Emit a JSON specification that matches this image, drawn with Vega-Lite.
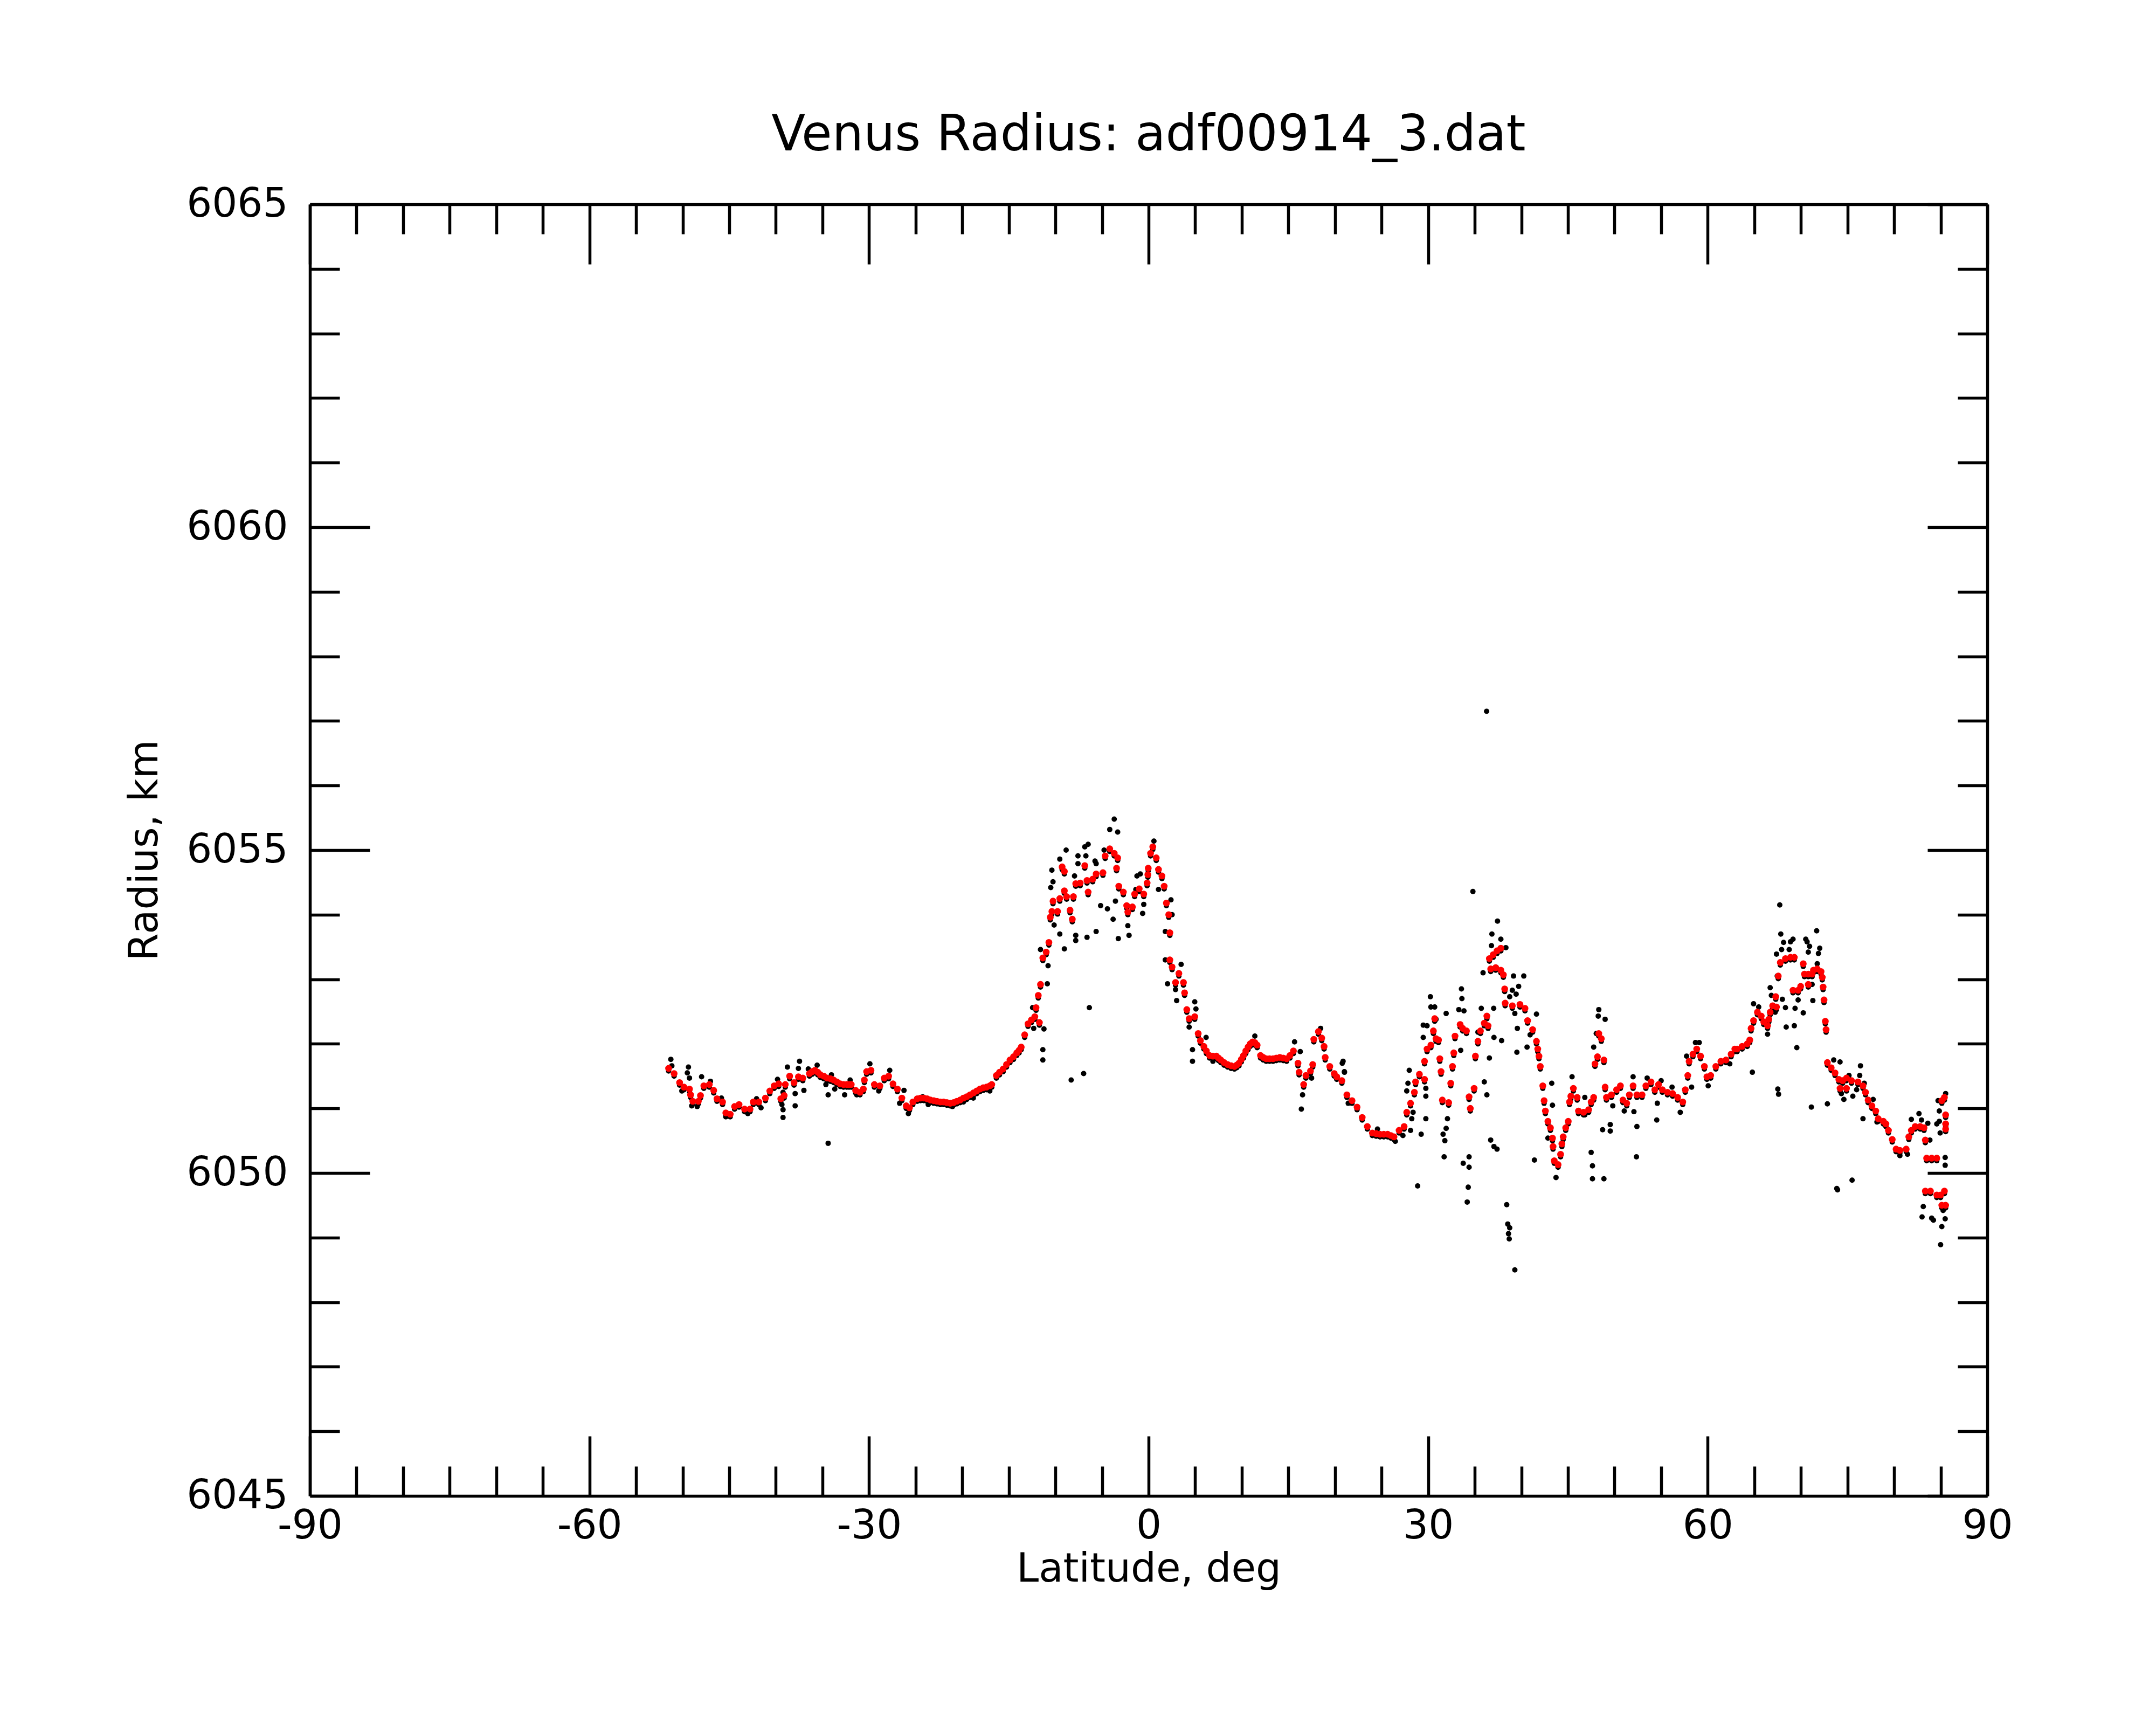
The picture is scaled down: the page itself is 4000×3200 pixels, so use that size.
{
  "$schema": "https://vega.github.io/schema/vega-lite/v6.json",
  "width": 3112,
  "height": 2396,
  "autosize": {"type": "none"},
  "padding": {"left": 575, "top": 379, "right": 313, "bottom": 425},
  "background": "white",
  "config": {"view": {"stroke": null}, "font": "DejaVu Sans"},
  "title": {
    "text": "Venus Radius: adf00914_3.dat",
    "font": "DejaVu Sans",
    "fontSize": 92,
    "fontWeight": "normal",
    "color": "black",
    "anchor": "middle",
    "offset": 44
  },
  "data": {
    "values": [
      {"lat": -51.51, "smooth": 6051.62, "raw": 6051.58},
      {"lat": -50.92, "smooth": 6051.54, "raw": 6051.50},
      {"lat": -50.33, "smooth": 6051.40, "raw": 6051.36},
      {"lat": -49.86, "smooth": 6051.33, "raw": 6051.29},
      {"lat": -49.27, "smooth": 6051.30, "raw": 6051.26},
      {"lat": -49.15, "smooth": 6051.21, "raw": 6051.17},
      {"lat": -48.91, "smooth": 6051.11, "raw": 6051.07},
      {"lat": -48.32, "smooth": 6051.11, "raw": 6051.07},
      {"lat": -48.09, "smooth": 6051.20, "raw": 6051.16},
      {"lat": -47.73, "smooth": 6051.35, "raw": 6051.31},
      {"lat": -47.14, "smooth": 6051.37, "raw": 6051.33},
      {"lat": -46.67, "smooth": 6051.28, "raw": 6051.24},
      {"lat": -46.32, "smooth": 6051.15, "raw": 6051.11},
      {"lat": -45.72, "smooth": 6051.10, "raw": 6051.06},
      {"lat": -45.37, "smooth": 6050.93, "raw": 6050.89},
      {"lat": -44.90, "smooth": 6050.91, "raw": 6050.87},
      {"lat": -44.43, "smooth": 6051.03, "raw": 6050.99},
      {"lat": -43.95, "smooth": 6051.06, "raw": 6051.02},
      {"lat": -43.36, "smooth": 6050.99, "raw": 6050.95},
      {"lat": -42.77, "smooth": 6050.99, "raw": 6050.95},
      {"lat": -42.42, "smooth": 6051.10, "raw": 6051.06},
      {"lat": -41.83, "smooth": 6051.10, "raw": 6051.06},
      {"lat": -41.12, "smooth": 6051.16, "raw": 6051.12},
      {"lat": -40.65, "smooth": 6051.27, "raw": 6051.23},
      {"lat": -40.18, "smooth": 6051.35, "raw": 6051.31},
      {"lat": -39.70, "smooth": 6051.38, "raw": 6051.34},
      {"lat": -39.47, "smooth": 6051.15, "raw": 6051.11},
      {"lat": -39.11, "smooth": 6051.20, "raw": 6051.16},
      {"lat": -38.99, "smooth": 6051.37, "raw": 6051.33},
      {"lat": -38.52, "smooth": 6051.50, "raw": 6051.46},
      {"lat": -38.05, "smooth": 6051.40, "raw": 6051.36},
      {"lat": -37.58, "smooth": 6051.49, "raw": 6051.45},
      {"lat": -37.11, "smooth": 6051.47, "raw": 6051.43},
      {"lat": -36.40, "smooth": 6051.54, "raw": 6051.50},
      {"lat": -36.10, "smooth": 6051.57, "raw": 6051.53},
      {"lat": -35.81, "smooth": 6051.59, "raw": 6051.55},
      {"lat": -35.50, "smooth": 6051.56, "raw": 6051.52},
      {"lat": -35.22, "smooth": 6051.52, "raw": 6051.48},
      {"lat": -34.86, "smooth": 6051.50, "raw": 6051.46},
      {"lat": -34.51, "smooth": 6051.47, "raw": 6051.43},
      {"lat": -34.15, "smooth": 6051.46, "raw": 6051.42},
      {"lat": -33.80, "smooth": 6051.44, "raw": 6051.40},
      {"lat": -33.45, "smooth": 6051.41, "raw": 6051.37},
      {"lat": -33.09, "smooth": 6051.38, "raw": 6051.34},
      {"lat": -32.74, "smooth": 6051.37, "raw": 6051.33},
      {"lat": -32.39, "smooth": 6051.37, "raw": 6051.33},
      {"lat": -32.15, "smooth": 6051.37, "raw": 6051.33},
      {"lat": -31.91, "smooth": 6051.37, "raw": 6051.33},
      {"lat": -31.44, "smooth": 6051.28, "raw": 6051.24},
      {"lat": -30.97, "smooth": 6051.25, "raw": 6051.21},
      {"lat": -30.61, "smooth": 6051.30, "raw": 6051.26},
      {"lat": -30.50, "smooth": 6051.44, "raw": 6051.40},
      {"lat": -30.26, "smooth": 6051.57, "raw": 6051.53},
      {"lat": -29.79, "smooth": 6051.59, "raw": 6051.55},
      {"lat": -29.43, "smooth": 6051.37, "raw": 6051.33},
      {"lat": -28.84, "smooth": 6051.35, "raw": 6051.31},
      {"lat": -28.37, "smooth": 6051.47, "raw": 6051.43},
      {"lat": -27.90, "smooth": 6051.50, "raw": 6051.46},
      {"lat": -27.43, "smooth": 6051.38, "raw": 6051.34},
      {"lat": -26.96, "smooth": 6051.30, "raw": 6051.26},
      {"lat": -26.48, "smooth": 6051.16, "raw": 6051.12},
      {"lat": -26.01, "smooth": 6051.04, "raw": 6051.00},
      {"lat": -25.66, "smooth": 6051.01, "raw": 6050.97},
      {"lat": -25.30, "smooth": 6051.10, "raw": 6051.06},
      {"lat": -24.83, "smooth": 6051.15, "raw": 6051.11},
      {"lat": -24.48, "smooth": 6051.16, "raw": 6051.12},
      {"lat": -24.12, "smooth": 6051.16, "raw": 6051.12},
      {"lat": -23.77, "smooth": 6051.15, "raw": 6051.11},
      {"lat": -23.41, "smooth": 6051.13, "raw": 6051.09},
      {"lat": -23.06, "smooth": 6051.12, "raw": 6051.08},
      {"lat": -22.71, "smooth": 6051.11, "raw": 6051.07},
      {"lat": -22.35, "smooth": 6051.10, "raw": 6051.06},
      {"lat": -22.00, "smooth": 6051.10, "raw": 6051.06},
      {"lat": -21.65, "smooth": 6051.09, "raw": 6051.05},
      {"lat": -21.29, "smooth": 6051.08, "raw": 6051.04},
      {"lat": -20.93, "smooth": 6051.09, "raw": 6051.05},
      {"lat": -20.58, "smooth": 6051.11, "raw": 6051.07},
      {"lat": -20.22, "smooth": 6051.13, "raw": 6051.09},
      {"lat": -19.87, "smooth": 6051.16, "raw": 6051.12},
      {"lat": -19.52, "smooth": 6051.18, "raw": 6051.14},
      {"lat": -19.16, "smooth": 6051.21, "raw": 6051.17},
      {"lat": -18.80, "smooth": 6051.24, "raw": 6051.20},
      {"lat": -18.45, "smooth": 6051.27, "raw": 6051.23},
      {"lat": -18.10, "smooth": 6051.30, "raw": 6051.26},
      {"lat": -17.75, "smooth": 6051.32, "raw": 6051.28},
      {"lat": -17.40, "smooth": 6051.33, "raw": 6051.29},
      {"lat": -17.04, "smooth": 6051.35, "raw": 6051.31},
      {"lat": -16.83, "smooth": 6051.37, "raw": 6051.33},
      {"lat": -16.34, "smooth": 6051.51, "raw": 6051.47},
      {"lat": -16.00, "smooth": 6051.56, "raw": 6051.52},
      {"lat": -15.61, "smooth": 6051.61, "raw": 6051.57},
      {"lat": -15.25, "smooth": 6051.68, "raw": 6051.64},
      {"lat": -14.88, "smooth": 6051.75, "raw": 6051.71},
      {"lat": -14.50, "smooth": 6051.80, "raw": 6051.76},
      {"lat": -14.15, "smooth": 6051.86, "raw": 6051.82},
      {"lat": -13.90, "smooth": 6051.90, "raw": 6051.86},
      {"lat": -13.67, "smooth": 6051.95, "raw": 6051.91},
      {"lat": -13.30, "smooth": 6052.14, "raw": 6052.10},
      {"lat": -12.94, "smooth": 6052.31, "raw": 6052.27},
      {"lat": -12.57, "smooth": 6052.37, "raw": 6052.33},
      {"lat": -12.21, "smooth": 6052.42, "raw": 6052.38},
      {"lat": -11.72, "smooth": 6052.33, "raw": 6052.29},
      {"lat": -12.08, "smooth": 6052.56, "raw": 6052.52},
      {"lat": -11.84, "smooth": 6052.75, "raw": 6052.71},
      {"lat": -11.60, "smooth": 6052.92, "raw": 6052.88},
      {"lat": -11.35, "smooth": 6053.33, "raw": 6053.29},
      {"lat": -10.99, "smooth": 6053.42, "raw": 6053.38},
      {"lat": -10.70, "smooth": 6053.57, "raw": 6053.53},
      {"lat": -10.55, "smooth": 6053.96, "raw": 6053.92},
      {"lat": -10.38, "smooth": 6054.05, "raw": 6054.01},
      {"lat": -9.77, "smooth": 6054.05, "raw": 6054.01},
      {"lat": -10.26, "smooth": 6054.21, "raw": 6054.17},
      {"lat": -9.53, "smooth": 6054.25, "raw": 6054.21},
      {"lat": -9.04, "smooth": 6054.37, "raw": 6054.33},
      {"lat": -8.80, "smooth": 6054.28, "raw": 6054.24},
      {"lat": -8.07, "smooth": 6054.28, "raw": 6054.24},
      {"lat": -8.43, "smooth": 6054.07, "raw": 6054.03},
      {"lat": -8.19, "smooth": 6053.93, "raw": 6053.89},
      {"lat": -9.28, "smooth": 6054.74, "raw": 6054.70},
      {"lat": -9.04, "smooth": 6054.67, "raw": 6054.63},
      {"lat": -7.82, "smooth": 6054.48, "raw": 6054.44},
      {"lat": -7.34, "smooth": 6054.49, "raw": 6054.45},
      {"lat": -6.61, "smooth": 6054.53, "raw": 6054.49},
      {"lat": -6.00, "smooth": 6054.55, "raw": 6054.51},
      {"lat": -5.63, "smooth": 6054.63, "raw": 6054.59},
      {"lat": -4.90, "smooth": 6054.65, "raw": 6054.61},
      {"lat": -6.85, "smooth": 6054.76, "raw": 6054.72},
      {"lat": -6.49, "smooth": 6054.35, "raw": 6054.31},
      {"lat": -4.66, "smooth": 6054.91, "raw": 6054.87},
      {"lat": -4.17, "smooth": 6055.02, "raw": 6054.98},
      {"lat": -3.69, "smooth": 6054.95, "raw": 6054.91},
      {"lat": -3.32, "smooth": 6054.88, "raw": 6054.84},
      {"lat": -3.44, "smooth": 6054.72, "raw": 6054.68},
      {"lat": -3.20, "smooth": 6054.44, "raw": 6054.40},
      {"lat": -2.71, "smooth": 6054.35, "raw": 6054.31},
      {"lat": -2.35, "smooth": 6054.14, "raw": 6054.10},
      {"lat": -2.23, "smooth": 6054.04, "raw": 6054.00},
      {"lat": -1.74, "smooth": 6054.12, "raw": 6054.08},
      {"lat": -1.50, "smooth": 6054.32, "raw": 6054.28},
      {"lat": -1.01, "smooth": 6054.40, "raw": 6054.36},
      {"lat": -0.52, "smooth": 6054.32, "raw": 6054.28},
      {"lat": -0.16, "smooth": 6054.49, "raw": 6054.45},
      {"lat": -0.08, "smooth": 6054.62, "raw": 6054.58},
      {"lat": -0.04, "smooth": 6054.72, "raw": 6054.68},
      {"lat": 0.21, "smooth": 6054.95, "raw": 6054.91},
      {"lat": 0.45, "smooth": 6055.05, "raw": 6055.01},
      {"lat": 0.82, "smooth": 6054.88, "raw": 6054.84},
      {"lat": 1.06, "smooth": 6054.70, "raw": 6054.66},
      {"lat": 1.43, "smooth": 6054.60, "raw": 6054.56},
      {"lat": 1.67, "smooth": 6054.44, "raw": 6054.40},
      {"lat": 1.91, "smooth": 6054.18, "raw": 6054.14},
      {"lat": 2.16, "smooth": 6054.00, "raw": 6053.96},
      {"lat": 2.28, "smooth": 6053.72, "raw": 6053.68},
      {"lat": 2.28, "smooth": 6053.30, "raw": 6053.26},
      {"lat": 2.52, "smooth": 6053.19, "raw": 6053.15},
      {"lat": 3.25, "smooth": 6053.09, "raw": 6053.05},
      {"lat": 2.89, "smooth": 6052.95, "raw": 6052.91},
      {"lat": 3.74, "smooth": 6052.95, "raw": 6052.91},
      {"lat": 3.86, "smooth": 6052.79, "raw": 6052.75},
      {"lat": 4.10, "smooth": 6052.53, "raw": 6052.49},
      {"lat": 4.35, "smooth": 6052.39, "raw": 6052.35},
      {"lat": 4.95, "smooth": 6052.42, "raw": 6052.38},
      {"lat": 5.32, "smooth": 6052.16, "raw": 6052.12},
      {"lat": 5.56, "smooth": 6052.05, "raw": 6052.01},
      {"lat": 5.93, "smooth": 6051.96, "raw": 6051.92},
      {"lat": 6.20, "smooth": 6051.89, "raw": 6051.85},
      {"lat": 6.54, "smooth": 6051.82, "raw": 6051.78},
      {"lat": 6.90, "smooth": 6051.81, "raw": 6051.77},
      {"lat": 7.27, "smooth": 6051.81, "raw": 6051.77},
      {"lat": 7.50, "smooth": 6051.78, "raw": 6051.74},
      {"lat": 7.75, "smooth": 6051.75, "raw": 6051.71},
      {"lat": 8.10, "smooth": 6051.71, "raw": 6051.67},
      {"lat": 8.48, "smooth": 6051.68, "raw": 6051.64},
      {"lat": 8.85, "smooth": 6051.66, "raw": 6051.62},
      {"lat": 9.21, "smooth": 6051.65, "raw": 6051.61},
      {"lat": 9.45, "smooth": 6051.67, "raw": 6051.63},
      {"lat": 9.70, "smooth": 6051.70, "raw": 6051.66},
      {"lat": 9.95, "smooth": 6051.76, "raw": 6051.72},
      {"lat": 10.19, "smooth": 6051.82, "raw": 6051.78},
      {"lat": 10.43, "smooth": 6051.89, "raw": 6051.85},
      {"lat": 10.67, "smooth": 6051.95, "raw": 6051.91},
      {"lat": 10.90, "smooth": 6052.00, "raw": 6051.96},
      {"lat": 11.16, "smooth": 6052.03, "raw": 6051.99},
      {"lat": 11.40, "smooth": 6052.02, "raw": 6051.98},
      {"lat": 11.65, "smooth": 6051.98, "raw": 6051.94},
      {"lat": 12.01, "smooth": 6051.82, "raw": 6051.78},
      {"lat": 12.30, "smooth": 6051.79, "raw": 6051.75},
      {"lat": 12.62, "smooth": 6051.77, "raw": 6051.73},
      {"lat": 12.98, "smooth": 6051.77, "raw": 6051.73},
      {"lat": 13.35, "smooth": 6051.77, "raw": 6051.73},
      {"lat": 13.70, "smooth": 6051.78, "raw": 6051.74},
      {"lat": 14.08, "smooth": 6051.79, "raw": 6051.75},
      {"lat": 14.45, "smooth": 6051.78, "raw": 6051.74},
      {"lat": 14.81, "smooth": 6051.77, "raw": 6051.73},
      {"lat": 15.17, "smooth": 6051.82, "raw": 6051.78},
      {"lat": 15.54, "smooth": 6051.89, "raw": 6051.85},
      {"lat": 16.03, "smooth": 6051.70, "raw": 6051.66},
      {"lat": 16.15, "smooth": 6051.56, "raw": 6051.52},
      {"lat": 16.64, "smooth": 6051.37, "raw": 6051.33},
      {"lat": 16.88, "smooth": 6051.51, "raw": 6051.47},
      {"lat": 17.37, "smooth": 6051.58, "raw": 6051.54},
      {"lat": 17.61, "smooth": 6051.68, "raw": 6051.64},
      {"lat": 17.73, "smooth": 6052.07, "raw": 6052.03},
      {"lat": 18.22, "smooth": 6052.19, "raw": 6052.15},
      {"lat": 18.58, "smooth": 6052.09, "raw": 6052.05},
      {"lat": 18.83, "smooth": 6051.96, "raw": 6051.92},
      {"lat": 18.95, "smooth": 6051.79, "raw": 6051.75},
      {"lat": 19.44, "smooth": 6051.65, "raw": 6051.61},
      {"lat": 19.92, "smooth": 6051.54, "raw": 6051.50},
      {"lat": 20.19, "smooth": 6051.49, "raw": 6051.45},
      {"lat": 20.74, "smooth": 6051.43, "raw": 6051.39},
      {"lat": 21.28, "smooth": 6051.21, "raw": 6051.17},
      {"lat": 21.83, "smooth": 6051.12, "raw": 6051.08},
      {"lat": 22.37, "smooth": 6051.02, "raw": 6050.98},
      {"lat": 22.92, "smooth": 6050.86, "raw": 6050.82},
      {"lat": 23.47, "smooth": 6050.72, "raw": 6050.68},
      {"lat": 24.01, "smooth": 6050.62, "raw": 6050.58},
      {"lat": 24.42, "smooth": 6050.61, "raw": 6050.57},
      {"lat": 24.83, "smooth": 6050.60, "raw": 6050.56},
      {"lat": 25.24, "smooth": 6050.60, "raw": 6050.56},
      {"lat": 25.65, "smooth": 6050.60, "raw": 6050.56},
      {"lat": 26.00, "smooth": 6050.58, "raw": 6050.54},
      {"lat": 26.33, "smooth": 6050.56, "raw": 6050.52},
      {"lat": 26.88, "smooth": 6050.66, "raw": 6050.62},
      {"lat": 27.42, "smooth": 6050.72, "raw": 6050.68},
      {"lat": 27.70, "smooth": 6050.94, "raw": 6050.90},
      {"lat": 28.11, "smooth": 6051.08, "raw": 6051.04},
      {"lat": 28.52, "smooth": 6051.25, "raw": 6051.21},
      {"lat": 28.65, "smooth": 6051.41, "raw": 6051.37},
      {"lat": 29.06, "smooth": 6051.53, "raw": 6051.49},
      {"lat": 29.61, "smooth": 6051.45, "raw": 6051.41},
      {"lat": 29.61, "smooth": 6051.73, "raw": 6051.69},
      {"lat": 29.88, "smooth": 6051.92, "raw": 6051.88},
      {"lat": 30.29, "smooth": 6051.98, "raw": 6051.94},
      {"lat": 30.56, "smooth": 6052.20, "raw": 6052.16},
      {"lat": 30.84, "smooth": 6052.08, "raw": 6052.04},
      {"lat": 30.70, "smooth": 6052.39, "raw": 6052.35},
      {"lat": 31.11, "smooth": 6052.06, "raw": 6052.02},
      {"lat": 31.25, "smooth": 6051.77, "raw": 6051.73},
      {"lat": 31.38, "smooth": 6051.57, "raw": 6051.53},
      {"lat": 31.52, "smooth": 6051.13, "raw": 6051.09},
      {"lat": 32.20, "smooth": 6051.09, "raw": 6051.05},
      {"lat": 32.42, "smooth": 6051.39, "raw": 6051.35},
      {"lat": 32.61, "smooth": 6051.65, "raw": 6051.61},
      {"lat": 32.75, "smooth": 6051.86, "raw": 6051.82},
      {"lat": 32.88, "smooth": 6052.12, "raw": 6052.08},
      {"lat": 33.43, "smooth": 6052.30, "raw": 6052.26},
      {"lat": 33.70, "smooth": 6052.24, "raw": 6052.20},
      {"lat": 34.11, "smooth": 6052.20, "raw": 6052.16},
      {"lat": 34.39, "smooth": 6051.18, "raw": 6051.14},
      {"lat": 34.52, "smooth": 6051.00, "raw": 6050.96},
      {"lat": 34.93, "smooth": 6051.31, "raw": 6051.27},
      {"lat": 35.07, "smooth": 6051.81, "raw": 6051.77},
      {"lat": 35.34, "smooth": 6052.04, "raw": 6052.00},
      {"lat": 35.61, "smooth": 6052.20, "raw": 6052.16},
      {"lat": 36.02, "smooth": 6052.32, "raw": 6052.28},
      {"lat": 36.30, "smooth": 6052.43, "raw": 6052.39},
      {"lat": 36.43, "smooth": 6052.28, "raw": 6052.24},
      {"lat": 36.57, "smooth": 6053.32, "raw": 6053.28},
      {"lat": 36.98, "smooth": 6053.38, "raw": 6053.34},
      {"lat": 37.39, "smooth": 6053.44, "raw": 6053.40},
      {"lat": 37.80, "smooth": 6053.48, "raw": 6053.44},
      {"lat": 36.71, "smooth": 6053.16, "raw": 6053.12},
      {"lat": 37.25, "smooth": 6053.18, "raw": 6053.14},
      {"lat": 37.80, "smooth": 6053.14, "raw": 6053.10},
      {"lat": 38.07, "smooth": 6053.07, "raw": 6053.03},
      {"lat": 38.21, "smooth": 6052.85, "raw": 6052.81},
      {"lat": 38.26, "smooth": 6052.63, "raw": 6052.59},
      {"lat": 39.03, "smooth": 6052.59, "raw": 6052.55},
      {"lat": 39.85, "smooth": 6052.61, "raw": 6052.57},
      {"lat": 40.39, "smooth": 6052.55, "raw": 6052.51},
      {"lat": 40.67, "smooth": 6052.36, "raw": 6052.32},
      {"lat": 41.21, "smooth": 6052.22, "raw": 6052.18},
      {"lat": 41.62, "smooth": 6052.04, "raw": 6052.00},
      {"lat": 41.76, "smooth": 6051.92, "raw": 6051.88},
      {"lat": 41.89, "smooth": 6051.81, "raw": 6051.77},
      {"lat": 42.03, "smooth": 6051.65, "raw": 6051.61},
      {"lat": 42.30, "smooth": 6051.35, "raw": 6051.31},
      {"lat": 42.44, "smooth": 6051.12, "raw": 6051.08},
      {"lat": 42.58, "smooth": 6050.96, "raw": 6050.92},
      {"lat": 42.85, "smooth": 6050.80, "raw": 6050.76},
      {"lat": 43.12, "smooth": 6050.70, "raw": 6050.66},
      {"lat": 43.34, "smooth": 6050.54, "raw": 6050.50},
      {"lat": 43.40, "smooth": 6050.41, "raw": 6050.37},
      {"lat": 43.53, "smooth": 6050.19, "raw": 6050.15},
      {"lat": 43.94, "smooth": 6050.13, "raw": 6050.09},
      {"lat": 44.21, "smooth": 6050.29, "raw": 6050.25},
      {"lat": 44.35, "smooth": 6050.45, "raw": 6050.41},
      {"lat": 44.49, "smooth": 6050.56, "raw": 6050.52},
      {"lat": 44.76, "smooth": 6050.70, "raw": 6050.66},
      {"lat": 45.03, "smooth": 6050.80, "raw": 6050.76},
      {"lat": 45.17, "smooth": 6051.10, "raw": 6051.06},
      {"lat": 45.31, "smooth": 6051.19, "raw": 6051.15},
      {"lat": 45.58, "smooth": 6051.31, "raw": 6051.27},
      {"lat": 45.99, "smooth": 6051.17, "raw": 6051.13},
      {"lat": 46.13, "smooth": 6050.96, "raw": 6050.92},
      {"lat": 46.67, "smooth": 6050.94, "raw": 6050.90},
      {"lat": 47.22, "smooth": 6050.98, "raw": 6050.94},
      {"lat": 47.49, "smooth": 6051.10, "raw": 6051.06},
      {"lat": 47.76, "smooth": 6051.17, "raw": 6051.13},
      {"lat": 47.90, "smooth": 6051.69, "raw": 6051.65},
      {"lat": 48.17, "smooth": 6051.80, "raw": 6051.76},
      {"lat": 48.58, "smooth": 6052.08, "raw": 6052.04},
      {"lat": 48.31, "smooth": 6052.16, "raw": 6052.12},
      {"lat": 48.86, "smooth": 6051.75, "raw": 6051.71},
      {"lat": 48.99, "smooth": 6051.33, "raw": 6051.29},
      {"lat": 49.13, "smooth": 6051.17, "raw": 6051.13},
      {"lat": 49.67, "smooth": 6051.21, "raw": 6051.17},
      {"lat": 50.22, "smooth": 6051.29, "raw": 6051.25},
      {"lat": 50.63, "smooth": 6051.35, "raw": 6051.31},
      {"lat": 50.90, "smooth": 6051.13, "raw": 6051.09},
      {"lat": 51.31, "smooth": 6051.08, "raw": 6051.04},
      {"lat": 51.59, "smooth": 6051.21, "raw": 6051.17},
      {"lat": 51.99, "smooth": 6051.35, "raw": 6051.31},
      {"lat": 52.40, "smooth": 6051.21, "raw": 6051.17},
      {"lat": 52.95, "smooth": 6051.21, "raw": 6051.17},
      {"lat": 53.36, "smooth": 6051.35, "raw": 6051.31},
      {"lat": 53.91, "smooth": 6051.41, "raw": 6051.37},
      {"lat": 54.32, "smooth": 6051.29, "raw": 6051.25},
      {"lat": 54.72, "smooth": 6051.37, "raw": 6051.33},
      {"lat": 55.13, "smooth": 6051.29, "raw": 6051.25},
      {"lat": 55.68, "smooth": 6051.25, "raw": 6051.21},
      {"lat": 56.23, "smooth": 6051.23, "raw": 6051.19},
      {"lat": 56.77, "smooth": 6051.17, "raw": 6051.13},
      {"lat": 57.32, "smooth": 6051.10, "raw": 6051.06},
      {"lat": 57.59, "smooth": 6051.29, "raw": 6051.25},
      {"lat": 57.86, "smooth": 6051.51, "raw": 6051.47},
      {"lat": 58.00, "smooth": 6051.73, "raw": 6051.69},
      {"lat": 58.41, "smooth": 6051.84, "raw": 6051.80},
      {"lat": 58.82, "smooth": 6051.92, "raw": 6051.88},
      {"lat": 59.23, "smooth": 6051.81, "raw": 6051.77},
      {"lat": 59.64, "smooth": 6051.65, "raw": 6051.61},
      {"lat": 59.91, "smooth": 6051.49, "raw": 6051.45},
      {"lat": 60.32, "smooth": 6051.51, "raw": 6051.47},
      {"lat": 60.87, "smooth": 6051.65, "raw": 6051.61},
      {"lat": 61.41, "smooth": 6051.73, "raw": 6051.69},
      {"lat": 61.96, "smooth": 6051.75, "raw": 6051.71},
      {"lat": 62.51, "smooth": 6051.84, "raw": 6051.80},
      {"lat": 62.91, "smooth": 6051.92, "raw": 6051.88},
      {"lat": 63.15, "smooth": 6051.92, "raw": 6051.88},
      {"lat": 63.69, "smooth": 6051.96, "raw": 6051.92},
      {"lat": 64.24, "smooth": 6052.00, "raw": 6051.96},
      {"lat": 64.51, "smooth": 6052.06, "raw": 6052.02},
      {"lat": 64.65, "smooth": 6052.24, "raw": 6052.20},
      {"lat": 64.92, "smooth": 6052.36, "raw": 6052.32},
      {"lat": 65.33, "smooth": 6052.49, "raw": 6052.45},
      {"lat": 65.74, "smooth": 6052.43, "raw": 6052.39},
      {"lat": 66.01, "smooth": 6052.34, "raw": 6052.30},
      {"lat": 66.42, "smooth": 6052.28, "raw": 6052.24},
      {"lat": 66.56, "smooth": 6052.38, "raw": 6052.34},
      {"lat": 66.70, "smooth": 6052.49, "raw": 6052.45},
      {"lat": 66.97, "smooth": 6052.59, "raw": 6052.55},
      {"lat": 67.38, "smooth": 6052.57, "raw": 6052.53},
      {"lat": 67.30, "smooth": 6052.73, "raw": 6052.69},
      {"lat": 67.57, "smooth": 6053.05, "raw": 6053.01},
      {"lat": 67.79, "smooth": 6053.26, "raw": 6053.22},
      {"lat": 68.34, "smooth": 6053.32, "raw": 6053.28},
      {"lat": 68.88, "smooth": 6053.34, "raw": 6053.30},
      {"lat": 69.29, "smooth": 6053.34, "raw": 6053.30},
      {"lat": 69.15, "smooth": 6052.83, "raw": 6052.79},
      {"lat": 69.70, "smooth": 6052.83, "raw": 6052.79},
      {"lat": 69.97, "smooth": 6052.89, "raw": 6052.85},
      {"lat": 70.25, "smooth": 6053.24, "raw": 6053.20},
      {"lat": 70.38, "smooth": 6053.08, "raw": 6053.04},
      {"lat": 70.79, "smooth": 6053.08, "raw": 6053.04},
      {"lat": 71.20, "smooth": 6053.08, "raw": 6053.04},
      {"lat": 71.34, "smooth": 6053.14, "raw": 6053.10},
      {"lat": 71.75, "smooth": 6053.16, "raw": 6053.12},
      {"lat": 72.16, "smooth": 6053.12, "raw": 6053.08},
      {"lat": 72.29, "smooth": 6053.03, "raw": 6052.99},
      {"lat": 72.38, "smooth": 6052.88, "raw": 6052.84},
      {"lat": 72.48, "smooth": 6052.68, "raw": 6052.64},
      {"lat": 72.62, "smooth": 6052.35, "raw": 6052.31},
      {"lat": 72.70, "smooth": 6052.22, "raw": 6052.18},
      {"lat": 70.79, "smooth": 6052.92, "raw": 6052.88},
      {"lat": 72.84, "smooth": 6051.71, "raw": 6051.67},
      {"lat": 73.25, "smooth": 6051.63, "raw": 6051.59},
      {"lat": 73.66, "smooth": 6051.55, "raw": 6051.51},
      {"lat": 74.07, "smooth": 6051.45, "raw": 6051.41},
      {"lat": 74.20, "smooth": 6051.31, "raw": 6051.27},
      {"lat": 74.89, "smooth": 6051.31, "raw": 6051.27},
      {"lat": 74.48, "smooth": 6051.43, "raw": 6051.39},
      {"lat": 74.89, "smooth": 6051.47, "raw": 6051.43},
      {"lat": 75.43, "smooth": 6051.43, "raw": 6051.39},
      {"lat": 76.12, "smooth": 6051.41, "raw": 6051.37},
      {"lat": 76.66, "smooth": 6051.35, "raw": 6051.31},
      {"lat": 76.93, "smooth": 6051.25, "raw": 6051.21},
      {"lat": 77.21, "smooth": 6051.13, "raw": 6051.09},
      {"lat": 77.62, "smooth": 6051.04, "raw": 6051.00},
      {"lat": 78.03, "smooth": 6050.96, "raw": 6050.92},
      {"lat": 78.30, "smooth": 6050.84, "raw": 6050.80},
      {"lat": 78.85, "smooth": 6050.80, "raw": 6050.76},
      {"lat": 79.12, "smooth": 6050.76, "raw": 6050.72},
      {"lat": 79.39, "smooth": 6050.66, "raw": 6050.62},
      {"lat": 79.80, "smooth": 6050.52, "raw": 6050.48},
      {"lat": 80.21, "smooth": 6050.37, "raw": 6050.33},
      {"lat": 80.62, "smooth": 6050.35, "raw": 6050.31},
      {"lat": 81.30, "smooth": 6050.37, "raw": 6050.33},
      {"lat": 81.58, "smooth": 6050.56, "raw": 6050.52},
      {"lat": 81.85, "smooth": 6050.66, "raw": 6050.62},
      {"lat": 82.26, "smooth": 6050.72, "raw": 6050.68},
      {"lat": 82.80, "smooth": 6050.72, "raw": 6050.68},
      {"lat": 83.21, "smooth": 6050.70, "raw": 6050.66},
      {"lat": 83.35, "smooth": 6050.51, "raw": 6050.47},
      {"lat": 83.49, "smooth": 6050.23, "raw": 6050.19},
      {"lat": 84.03, "smooth": 6050.23, "raw": 6050.19},
      {"lat": 84.58, "smooth": 6050.23, "raw": 6050.19},
      {"lat": 83.35, "smooth": 6049.72, "raw": 6049.68},
      {"lat": 83.90, "smooth": 6049.72, "raw": 6049.68},
      {"lat": 84.58, "smooth": 6049.66, "raw": 6049.62},
      {"lat": 84.99, "smooth": 6049.66, "raw": 6049.62},
      {"lat": 85.40, "smooth": 6049.72, "raw": 6049.68},
      {"lat": 85.12, "smooth": 6049.50, "raw": 6049.46},
      {"lat": 85.53, "smooth": 6049.50, "raw": 6049.46},
      {"lat": 85.12, "smooth": 6051.12, "raw": 6051.08},
      {"lat": 85.40, "smooth": 6051.17, "raw": 6051.13},
      {"lat": 85.53, "smooth": 6050.90, "raw": 6050.86},
      {"lat": 85.53, "smooth": 6050.76, "raw": 6050.72},
      {"lat": 85.53, "smooth": 6050.68, "raw": 6050.64},
      {"lat": -51.27, "raw": 6051.76},
      {"lat": -51.16, "raw": 6051.66},
      {"lat": -49.38, "raw": 6051.64},
      {"lat": -49.50, "raw": 6051.55},
      {"lat": -49.27, "raw": 6051.47},
      {"lat": -50.09, "raw": 6051.27},
      {"lat": -49.03, "raw": 6051.04},
      {"lat": -48.44, "raw": 6051.03},
      {"lat": -47.97, "raw": 6051.49},
      {"lat": -47.02, "raw": 6051.42},
      {"lat": -45.84, "raw": 6051.16},
      {"lat": -45.37, "raw": 6050.87},
      {"lat": -43.01, "raw": 6050.92},
      {"lat": -42.07, "raw": 6051.15},
      {"lat": -41.59, "raw": 6051.01},
      {"lat": -39.82, "raw": 6051.45},
      {"lat": -38.76, "raw": 6051.64},
      {"lat": -39.23, "raw": 6051.25},
      {"lat": -39.35, "raw": 6051.06},
      {"lat": -39.23, "raw": 6050.98},
      {"lat": -39.23, "raw": 6050.86},
      {"lat": -37.93, "raw": 6051.23},
      {"lat": -37.93, "raw": 6051.04},
      {"lat": -37.46, "raw": 6051.73},
      {"lat": -37.58, "raw": 6051.62},
      {"lat": -36.99, "raw": 6051.28},
      {"lat": -36.52, "raw": 6051.61},
      {"lat": -35.57, "raw": 6051.67},
      {"lat": -34.63, "raw": 6051.37},
      {"lat": -34.39, "raw": 6051.21},
      {"lat": -34.04, "raw": 6051.52},
      {"lat": -33.68, "raw": 6051.30},
      {"lat": -32.62, "raw": 6051.21},
      {"lat": -32.03, "raw": 6051.44},
      {"lat": -31.32, "raw": 6051.21},
      {"lat": -29.91, "raw": 6051.69},
      {"lat": -28.96, "raw": 6051.27},
      {"lat": -27.78, "raw": 6051.59},
      {"lat": -26.25, "raw": 6051.28},
      {"lat": -26.72, "raw": 6051.08},
      {"lat": -25.78, "raw": 6050.92},
      {"lat": -24.24, "raw": 6051.18},
      {"lat": -23.65, "raw": 6051.06},
      {"lat": -21.05, "raw": 6051.03},
      {"lat": -19.87, "raw": 6051.10},
      {"lat": -18.81, "raw": 6051.16},
      {"lat": -17.04, "raw": 6051.27},
      {"lat": -34.39, "raw": 6050.46},
      {"lat": -12.45, "raw": 6052.56},
      {"lat": -12.33, "raw": 6052.24},
      {"lat": -11.23, "raw": 6052.23},
      {"lat": -11.35, "raw": 6051.91},
      {"lat": -11.35, "raw": 6051.75},
      {"lat": -8.31, "raw": 6051.44},
      {"lat": -6.97, "raw": 6051.54},
      {"lat": -6.36, "raw": 6052.56},
      {"lat": -10.87, "raw": 6052.93},
      {"lat": -11.60, "raw": 6053.46},
      {"lat": -10.79, "raw": 6053.21},
      {"lat": -9.04, "raw": 6053.47},
      {"lat": -9.53, "raw": 6053.70},
      {"lat": -7.82, "raw": 6053.68},
      {"lat": -7.82, "raw": 6053.60},
      {"lat": -6.61, "raw": 6053.65},
      {"lat": -5.63, "raw": 6053.74},
      {"lat": -3.25, "raw": 6053.63},
      {"lat": -2.10, "raw": 6053.68},
      {"lat": -2.23, "raw": 6053.83},
      {"lat": -10.14, "raw": 6053.84},
      {"lat": -10.38, "raw": 6054.69},
      {"lat": -10.26, "raw": 6054.51},
      {"lat": -10.50, "raw": 6054.42},
      {"lat": -9.53, "raw": 6054.86},
      {"lat": -8.85, "raw": 6055.00},
      {"lat": -7.58, "raw": 6054.91},
      {"lat": -6.85, "raw": 6055.05},
      {"lat": -6.49, "raw": 6055.09},
      {"lat": -6.73, "raw": 6054.91},
      {"lat": -7.58, "raw": 6054.79},
      {"lat": -7.95, "raw": 6054.60},
      {"lat": -5.63, "raw": 6054.79},
      {"lat": -5.75, "raw": 6054.83},
      {"lat": -5.15, "raw": 6054.14},
      {"lat": -4.42, "raw": 6054.09},
      {"lat": -3.81, "raw": 6053.93},
      {"lat": -3.56, "raw": 6054.21},
      {"lat": -4.17, "raw": 6055.32},
      {"lat": -3.32, "raw": 6055.28},
      {"lat": -3.69, "raw": 6055.48},
      {"lat": -4.78, "raw": 6055.00},
      {"lat": -1.25, "raw": 6054.60},
      {"lat": -0.89, "raw": 6054.63},
      {"lat": -1.37, "raw": 6054.39},
      {"lat": -0.52, "raw": 6054.16},
      {"lat": -0.64, "raw": 6054.02},
      {"lat": 0.57, "raw": 6055.14},
      {"lat": 1.06, "raw": 6054.39},
      {"lat": 2.40, "raw": 6054.23},
      {"lat": 2.52, "raw": 6054.00},
      {"lat": 1.79, "raw": 6053.74},
      {"lat": 1.79, "raw": 6053.30},
      {"lat": 2.03, "raw": 6052.93},
      {"lat": 2.89, "raw": 6052.84},
      {"lat": 3.01, "raw": 6052.67},
      {"lat": 3.49, "raw": 6053.23},
      {"lat": 4.95, "raw": 6052.65},
      {"lat": 5.08, "raw": 6052.54},
      {"lat": 4.35, "raw": 6052.26},
      {"lat": 4.71, "raw": 6051.91},
      {"lat": 4.71, "raw": 6051.73},
      {"lat": 6.17, "raw": 6052.10},
      {"lat": 6.90, "raw": 6051.73},
      {"lat": 11.40, "raw": 6052.12},
      {"lat": 15.66, "raw": 6052.03},
      {"lat": 16.27, "raw": 6051.88},
      {"lat": 17.49, "raw": 6051.47},
      {"lat": 16.52, "raw": 6051.21},
      {"lat": 16.39, "raw": 6050.99},
      {"lat": 18.46, "raw": 6052.24},
      {"lat": 20.78, "raw": 6051.70},
      {"lat": 21.02, "raw": 6051.56},
      {"lat": 20.87, "raw": 6051.73},
      {"lat": 21.01, "raw": 6051.57},
      {"lat": 21.42, "raw": 6051.08},
      {"lat": 24.56, "raw": 6050.68},
      {"lat": 26.47, "raw": 6050.49},
      {"lat": 27.29, "raw": 6050.58},
      {"lat": 27.97, "raw": 6051.59},
      {"lat": 27.83, "raw": 6051.39},
      {"lat": 27.70, "raw": 6051.27},
      {"lat": 28.38, "raw": 6050.94},
      {"lat": 28.24, "raw": 6050.84},
      {"lat": 28.11, "raw": 6050.66},
      {"lat": 28.87, "raw": 6049.80},
      {"lat": 29.25, "raw": 6050.60},
      {"lat": 29.75, "raw": 6051.31},
      {"lat": 29.75, "raw": 6051.19},
      {"lat": 29.75, "raw": 6050.84},
      {"lat": 29.47, "raw": 6052.29},
      {"lat": 29.47, "raw": 6052.10},
      {"lat": 29.88, "raw": 6052.28},
      {"lat": 30.24, "raw": 6052.73},
      {"lat": 30.29, "raw": 6052.57},
      {"lat": 30.70, "raw": 6052.57},
      {"lat": 30.84, "raw": 6052.38},
      {"lat": 31.93, "raw": 6052.47},
      {"lat": 32.07, "raw": 6050.84},
      {"lat": 31.93, "raw": 6050.69},
      {"lat": 31.60, "raw": 6050.60},
      {"lat": 31.79, "raw": 6050.50},
      {"lat": 31.71, "raw": 6050.25},
      {"lat": 33.29, "raw": 6052.53},
      {"lat": 33.57, "raw": 6052.85},
      {"lat": 33.62, "raw": 6052.70},
      {"lat": 33.84, "raw": 6052.51},
      {"lat": 33.49, "raw": 6051.90},
      {"lat": 33.76, "raw": 6050.15},
      {"lat": 34.39, "raw": 6050.25},
      {"lat": 34.39, "raw": 6050.09},
      {"lat": 34.30, "raw": 6049.78},
      {"lat": 34.19, "raw": 6049.55},
      {"lat": 34.80, "raw": 6054.36},
      {"lat": 36.27, "raw": 6057.15},
      {"lat": 35.70, "raw": 6052.55},
      {"lat": 35.34, "raw": 6052.18},
      {"lat": 36.02, "raw": 6051.41},
      {"lat": 36.30, "raw": 6051.21},
      {"lat": 36.57, "raw": 6051.78},
      {"lat": 37.03, "raw": 6052.55},
      {"lat": 36.71, "raw": 6050.51},
      {"lat": 37.06, "raw": 6050.41},
      {"lat": 37.39, "raw": 6050.37},
      {"lat": 37.06, "raw": 6052.10},
      {"lat": 37.88, "raw": 6052.05},
      {"lat": 36.84, "raw": 6053.70},
      {"lat": 36.79, "raw": 6053.52},
      {"lat": 35.89, "raw": 6053.10},
      {"lat": 37.44, "raw": 6053.90},
      {"lat": 37.80, "raw": 6053.62},
      {"lat": 38.34, "raw": 6053.49},
      {"lat": 39.16, "raw": 6053.05},
      {"lat": 40.26, "raw": 6053.05},
      {"lat": 39.71, "raw": 6052.89},
      {"lat": 39.03, "raw": 6052.83},
      {"lat": 38.75, "raw": 6052.73},
      {"lat": 39.44, "raw": 6052.77},
      {"lat": 39.30, "raw": 6052.47},
      {"lat": 39.57, "raw": 6052.24},
      {"lat": 39.52, "raw": 6051.87},
      {"lat": 40.61, "raw": 6051.95},
      {"lat": 40.94, "raw": 6052.14},
      {"lat": 41.62, "raw": 6052.46},
      {"lat": 38.43, "raw": 6049.51},
      {"lat": 38.54, "raw": 6049.21},
      {"lat": 38.75, "raw": 6049.15},
      {"lat": 38.62, "raw": 6049.06},
      {"lat": 38.70, "raw": 6048.98},
      {"lat": 39.30, "raw": 6048.50},
      {"lat": 41.40, "raw": 6050.20},
      {"lat": 43.26, "raw": 6051.39},
      {"lat": 43.34, "raw": 6051.05},
      {"lat": 42.85, "raw": 6050.54},
      {"lat": 43.72, "raw": 6049.93},
      {"lat": 45.44, "raw": 6051.49},
      {"lat": 46.81, "raw": 6051.17},
      {"lat": 46.81, "raw": 6050.90},
      {"lat": 47.49, "raw": 6050.32},
      {"lat": 47.63, "raw": 6050.11},
      {"lat": 47.63, "raw": 6049.91},
      {"lat": 48.86, "raw": 6049.91},
      {"lat": 48.72, "raw": 6050.67},
      {"lat": 49.54, "raw": 6050.65},
      {"lat": 49.54, "raw": 6050.75},
      {"lat": 48.31, "raw": 6052.53},
      {"lat": 48.25, "raw": 6052.43},
      {"lat": 48.99, "raw": 6052.38},
      {"lat": 48.04, "raw": 6052.16},
      {"lat": 47.76, "raw": 6051.95},
      {"lat": 49.81, "raw": 6051.04},
      {"lat": 51.04, "raw": 6050.96},
      {"lat": 51.99, "raw": 6051.49},
      {"lat": 52.08, "raw": 6050.95},
      {"lat": 52.40, "raw": 6050.72},
      {"lat": 52.35, "raw": 6050.25},
      {"lat": 53.50, "raw": 6051.47},
      {"lat": 54.59, "raw": 6051.08},
      {"lat": 54.53, "raw": 6050.82},
      {"lat": 55.00, "raw": 6051.43},
      {"lat": 56.17, "raw": 6051.33},
      {"lat": 57.05, "raw": 6050.94},
      {"lat": 58.27, "raw": 6051.33},
      {"lat": 57.73, "raw": 6051.81},
      {"lat": 58.68, "raw": 6052.02},
      {"lat": 59.09, "raw": 6052.02},
      {"lat": 60.05, "raw": 6051.35},
      {"lat": 62.37, "raw": 6051.69},
      {"lat": 64.79, "raw": 6051.56},
      {"lat": 64.92, "raw": 6052.62},
      {"lat": 65.47, "raw": 6052.57},
      {"lat": 66.42, "raw": 6052.15},
      {"lat": 66.70, "raw": 6052.87},
      {"lat": 66.83, "raw": 6052.75},
      {"lat": 67.24, "raw": 6052.49},
      {"lat": 67.46, "raw": 6053.05},
      {"lat": 67.38, "raw": 6053.39},
      {"lat": 67.84, "raw": 6053.70},
      {"lat": 67.73, "raw": 6054.15},
      {"lat": 68.14, "raw": 6053.57},
      {"lat": 67.93, "raw": 6053.46},
      {"lat": 68.74, "raw": 6053.46},
      {"lat": 68.88, "raw": 6053.58},
      {"lat": 69.15, "raw": 6053.62},
      {"lat": 68.01, "raw": 6052.69},
      {"lat": 68.34, "raw": 6052.56},
      {"lat": 68.42, "raw": 6052.26},
      {"lat": 69.29, "raw": 6052.28},
      {"lat": 69.37, "raw": 6052.55},
      {"lat": 69.70, "raw": 6052.68},
      {"lat": 69.56, "raw": 6051.94},
      {"lat": 70.25, "raw": 6052.48},
      {"lat": 67.52, "raw": 6051.30},
      {"lat": 67.60, "raw": 6051.22},
      {"lat": 70.52, "raw": 6053.62},
      {"lat": 70.66, "raw": 6053.58},
      {"lat": 70.93, "raw": 6053.51},
      {"lat": 70.79, "raw": 6053.42},
      {"lat": 71.20, "raw": 6052.92},
      {"lat": 71.28, "raw": 6052.67},
      {"lat": 71.69, "raw": 6053.75},
      {"lat": 71.88, "raw": 6053.40},
      {"lat": 72.02, "raw": 6053.48},
      {"lat": 71.75, "raw": 6053.24},
      {"lat": 71.12, "raw": 6051.02},
      {"lat": 72.84, "raw": 6051.07},
      {"lat": 73.52, "raw": 6051.75},
      {"lat": 74.20, "raw": 6051.72},
      {"lat": 74.34, "raw": 6051.23},
      {"lat": 74.61, "raw": 6051.14},
      {"lat": 75.16, "raw": 6051.51},
      {"lat": 75.57, "raw": 6051.19},
      {"lat": 75.98, "raw": 6051.29},
      {"lat": 76.31, "raw": 6051.51},
      {"lat": 76.39, "raw": 6051.66},
      {"lat": 76.80, "raw": 6051.39},
      {"lat": 76.66, "raw": 6050.84},
      {"lat": 77.75, "raw": 6051.14},
      {"lat": 78.16, "raw": 6050.79},
      {"lat": 80.62, "raw": 6050.27},
      {"lat": 81.44, "raw": 6050.29},
      {"lat": 73.85, "raw": 6049.76},
      {"lat": 73.93, "raw": 6049.74},
      {"lat": 75.49, "raw": 6049.89},
      {"lat": 81.85, "raw": 6050.83},
      {"lat": 82.67, "raw": 6050.92},
      {"lat": 82.94, "raw": 6050.82},
      {"lat": 83.62, "raw": 6050.77},
      {"lat": 83.84, "raw": 6050.51},
      {"lat": 83.13, "raw": 6049.48},
      {"lat": 83.00, "raw": 6049.32},
      {"lat": 84.03, "raw": 6049.30},
      {"lat": 84.22, "raw": 6049.27},
      {"lat": 85.12, "raw": 6049.17},
      {"lat": 84.99, "raw": 6048.89},
      {"lat": 85.26, "raw": 6049.42},
      {"lat": 85.48, "raw": 6049.29},
      {"lat": 85.48, "raw": 6050.12},
      {"lat": 85.48, "raw": 6050.24},
      {"lat": 84.72, "raw": 6051.12},
      {"lat": 84.85, "raw": 6050.96},
      {"lat": 84.58, "raw": 6050.76},
      {"lat": 84.85, "raw": 6050.80},
      {"lat": 84.94, "raw": 6050.62},
      {"lat": 85.53, "raw": 6051.23}
    ]
  },
  "layer": [
    {
      "mark": {"type": "circle", "color": "black", "size": 100, "opacity": 1},
      "encoding": {
        "x": {
          "field": "lat",
          "type": "quantitative",
          "scale": {"domain": [-90, 90], "nice": false, "zero": false},
          "axis": {
            "orient": "bottom",
            "title": "Latitude, deg",
            "titleFont": "DejaVu Sans",
            "titleFontSize": 74,
            "titleFontWeight": "normal",
            "titleColor": "black",
            "titlePadding": -49,
            "values": [-90, -85, -80, -75, -70, -65, -60, -55, -50, -45, -40, -35, -30, -25, -20, -15, -10, -5, 0, 5, 10, 15, 20, 25, 30, 35, 40, 45, 50, 55, 60, 65, 70, 75, 80, 85, 90],
            "labelExpr": "datum.value % 30 === 0 ? '' + datum.value : ''",
            "labelFont": "DejaVu Sans",
            "labelFontSize": 74,
            "labelColor": "black",
            "labelPadding": 131,
            "labelLimit": 0,
            "labelFlush": false,
            "labelOverlap": false,
            "grid": false,
            "domainColor": "black",
            "domainWidth": 5.5,
            "tickColor": "black",
            "tickWidth": 5.5,
            "tickSize": {"condition": {"test": "datum.value % 30 === 0", "value": -111}, "value": -55}
          }
        },
        "y": {
          "field": "raw",
          "type": "quantitative",
          "scale": {"domain": [6045, 6065], "nice": false, "zero": false},
          "axis": {
            "orient": "left",
            "title": "Radius, km",
            "titleFont": "DejaVu Sans",
            "titleFontSize": 74,
            "titleFontWeight": "normal",
            "titleColor": "black",
            "titlePadding": 68,
            "values": [6045, 6046, 6047, 6048, 6049, 6050, 6051, 6052, 6053, 6054, 6055, 6056, 6057, 6058, 6059, 6060, 6061, 6062, 6063, 6064, 6065],
            "labelExpr": "datum.value % 5 === 0 ? '' + datum.value : ''",
            "labelFont": "DejaVu Sans",
            "labelFontSize": 74,
            "labelColor": "black",
            "labelPadding": 152,
            "labelLimit": 0,
            "labelFlush": false,
            "labelOverlap": false,
            "grid": false,
            "domainColor": "black",
            "domainWidth": 5.5,
            "tickColor": "black",
            "tickWidth": 5.5,
            "tickSize": {"condition": {"test": "datum.value % 5 === 0", "value": -111}, "value": -55}
          }
        }
      }
    },
    {
      "mark": {"type": "circle", "color": "#ff0000", "size": 160, "opacity": 1},
      "encoding": {
        "x": {
          "field": "lat",
          "type": "quantitative",
          "scale": {"domain": [-90, 90], "nice": false, "zero": false},
          "axis": {
            "orient": "top",
            "title": null,
            "labels": false,
            "values": [-90, -85, -80, -75, -70, -65, -60, -55, -50, -45, -40, -35, -30, -25, -20, -15, -10, -5, 0, 5, 10, 15, 20, 25, 30, 35, 40, 45, 50, 55, 60, 65, 70, 75, 80, 85, 90],
            "grid": false,
            "domainColor": "black",
            "domainWidth": 5.5,
            "tickColor": "black",
            "tickWidth": 5.5,
            "tickSize": {"condition": {"test": "datum.value % 30 === 0", "value": -111}, "value": -55}
          }
        },
        "y": {
          "field": "smooth",
          "type": "quantitative",
          "scale": {"domain": [6045, 6065], "nice": false, "zero": false},
          "axis": {
            "orient": "right",
            "title": null,
            "labels": false,
            "values": [6045, 6046, 6047, 6048, 6049, 6050, 6051, 6052, 6053, 6054, 6055, 6056, 6057, 6058, 6059, 6060, 6061, 6062, 6063, 6064, 6065],
            "grid": false,
            "domainColor": "black",
            "domainWidth": 5.5,
            "tickColor": "black",
            "tickWidth": 5.5,
            "tickSize": {"condition": {"test": "datum.value % 5 === 0", "value": -111}, "value": -55}
          }
        }
      }
    }
  ],
  "resolve": {"axis": {"x": "independent", "y": "independent"}}
}
